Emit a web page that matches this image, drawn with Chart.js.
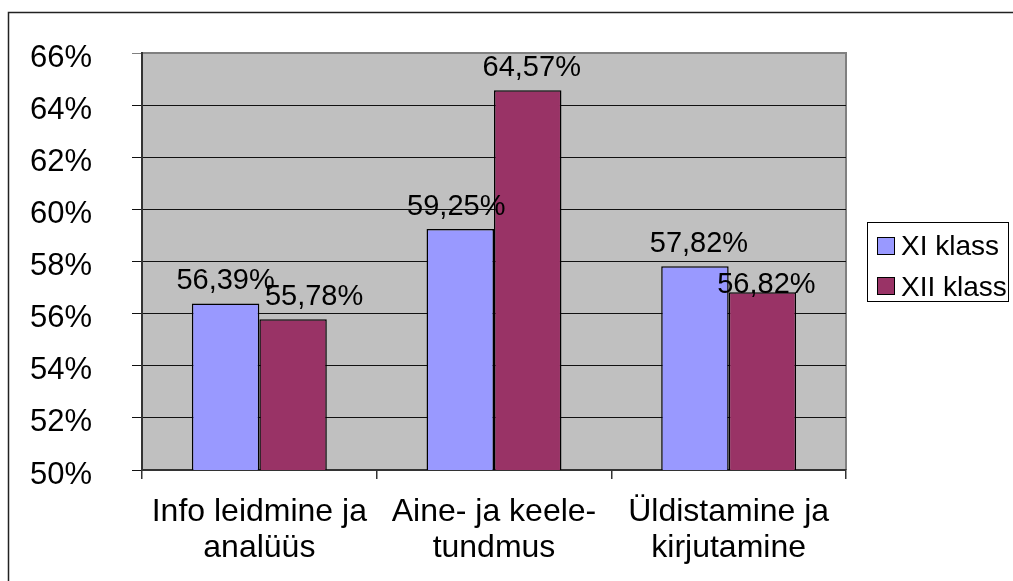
<!DOCTYPE html>
<html>
<head>
<meta charset="utf-8">
<script src="https://cdn.jsdelivr.net/npm/chart.js@4/dist/chart.umd.min.js"></script>
<style>
html,body{margin:0;padding:0;background:#fff;}
canvas{display:block;}
</style>
</head>
<body>
<canvas id="c" width="1013" height="581"></canvas>
<script>
const categories = [["Info leidmine ja","analüüs"],["Aine- ja keele-","tundmus"],["Üldistamine ja","kirjutamine"]];
const seriesNames = ["XI klass","XII klass"];
const xiValues = [56.39, 59.25, 57.82];
const xiiValues = [55.78, 64.57, 56.82];
const yMin = 50, yMax = 66, yStep = 2;
const colors = ["#9999FF","#993366"];
// label nudges (style only)
const labelDx = [[0,-4,4],[21,4,4]];
const labelDy = [[0,0,0],[0,0,15]];

const FONT = "'Liberation Sans', Arial, sans-serif";
Chart.defaults.font.family = FONT;
Chart.defaults.color = "#000";

const fmt = v => v.toFixed(2).replace('.', ',') + '%';

const framePlugin = {
  id: 'frame',
  beforeDraw(chart){
    const c = chart.ctx, a = chart.chartArea;
    c.save();
    c.fillStyle = '#fff';
    c.fillRect(0,0,chart.width,chart.height);
    c.strokeStyle = '#222'; c.lineWidth = 1.5;
    c.beginPath();
    c.moveTo(8.5, chart.height); c.lineTo(8.5, 12.5); c.lineTo(chart.width, 12.5);
    c.stroke();
    c.fillStyle = '#C0C0C0';
    c.fillRect(a.left, a.top, a.right - a.left, a.bottom - a.top);
    c.strokeStyle = '#808080'; c.lineWidth = 2;
    c.beginPath();
    c.moveTo(a.left, a.top); c.lineTo(a.right, a.top); c.lineTo(a.right, a.bottom);
    c.stroke();
    c.restore();
  },
  afterDatasetsDraw(chart){
    const c = chart.ctx;
    c.save();
    c.font = "29px " + FONT;
    c.fillStyle = '#000';
    c.textAlign = 'center';
    c.textBaseline = 'alphabetic';
    chart.data.datasets.forEach((ds, di) => {
      const meta = chart.getDatasetMeta(di);
      meta.data.forEach((el, i) => {
        c.fillText(fmt(ds.data[i]), el.x + labelDx[di][i], el.y - 14 + labelDy[di][i]);
      });
    });
    // legend
    const lx = 867, ly = 222, lw = 141, lh = 79;
    c.fillStyle = '#fff';
    c.fillRect(lx, ly, lw, lh);
    c.strokeStyle = '#000'; c.lineWidth = 1;
    c.strokeRect(lx + 0.5, ly + 0.5, lw, lh);
    c.textAlign = 'left';
    c.font = "28px " + FONT;
    chart.data.datasets.forEach((ds, di) => {
      const sy = 237 + di * 40;
      c.fillStyle = ds.backgroundColor;
      c.fillRect(877, sy, 17, 17);
      c.strokeStyle = '#000'; c.lineWidth = 1;
      c.strokeRect(877.5, sy + 0.5, 17, 17);
      c.fillStyle = '#000';
      c.fillText(ds.label, 901, 255 + di * 41);
    });
    c.restore();
  }
};

new Chart(document.getElementById('c'), {
  type: 'bar',
  data: {
    labels: categories,
    datasets: [
      {label: seriesNames[0], data: xiValues, backgroundColor: colors[0], borderColor: '#000', borderWidth: 1.5, borderSkipped: false},
      {label: seriesNames[1], data: xiiValues, backgroundColor: colors[1], borderColor: '#000', borderWidth: 1.5, borderSkipped: false}
    ]
  },
  options: {
    responsive: false,
    devicePixelRatio: 1,
    animation: false,
    layout: {padding: {top: 53, right: 167, left: 0, bottom: 0}},
    plugins: {legend: {display: false}, tooltip: {enabled: false}},
    datasets: {bar: {categoryPercentage: 0.575, barPercentage: 1}},
    scales: {
      x: {
        offset: true,
        grid: {offset: true, drawOnChartArea: false, drawTicks: true, tickLength: 9, color: '#333', lineWidth: 1.5},
        border: {display: true, color: '#333', width: 2},
        ticks: {font: {size: 32, lineHeight: 1.13}, color: '#000', padding: 15, maxRotation: 0, autoSkip: false},
        afterFit(s){ s.height = 111; s.paddingLeft = 0; s.paddingRight = 0; }
      },
      y: {
        min: yMin, max: yMax,
        grid: {
          color: ctx => (ctx.tick && ctx.tick.value === yMax) ? '#808080' : '#111',
          lineWidth: 1, tickLength: 10, drawTicks: true
        },
        border: {display: true, color: '#333', width: 2},
        ticks: {stepSize: yStep, font: {size: 31}, color: '#000', padding: 40, labelOffset: 5, callback: v => v + '%'},
        afterFit(s){ s.width = 142; s.paddingTop = 0; s.paddingBottom = 0; }
      }
    }
  },
  plugins: [framePlugin]
});
</script>
</body>
</html>
